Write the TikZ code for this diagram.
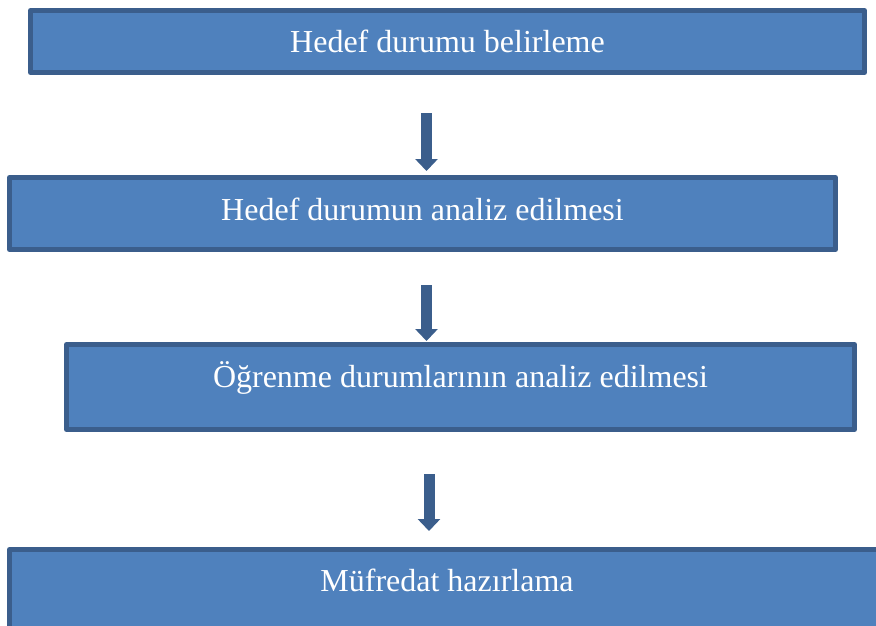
\documentclass[tikz,border=0pt]{standalone}
\usepackage{fontspec}
\setmainfont{Liberation Serif}
\usetikzlibrary{arrows.meta}
\definecolor{boxfill}{HTML}{4F81BD}
\definecolor{boxline}{HTML}{3B5E8C}
\tikzset{
  stagebox/.style={draw=boxline, fill=boxfill, line width=5pt, rectangle,
    inner sep=0pt, outer sep=0pt, line join=round},
  stagetext/.style={text=white, font=\fontsize{32}{38}\selectfont,
    inner sep=0pt, anchor=base},
  flowarrow/.style={draw=boxline, line width=11pt, line cap=butt,
    -{Triangle[width=22pt,length=12pt]}}
}
\begin{document}
\begin{tikzpicture}[x=1pt,y=-1pt]
\useasboundingbox (0,0) rectangle (876,625);
\clip (0,0) rectangle (876,625);

% stage boxes
\node[stagebox, minimum width=834pt, minimum height=62pt] (b1) at (447.5,41.5) {};
\node[stagebox, minimum width=826pt, minimum height=72pt] (b2) at (422.5,213.5) {};
\node[stagebox, minimum width=788pt, minimum height=85pt] (b3) at (460.5,387) {};
\node[stagebox, minimum width=875pt, minimum height=100pt] (b4) at (447,599.5) {};

% labels
\node[stagetext] (t1) at (447.5,52) {Hedef durumu belirleme};
\node[stagetext] (t2) at (422.5,220) {Hedef durumun analiz edilmesi};
\node[stagetext] (t3) at (460.5,387) {Öğrenme durumlarının analiz edilmesi};
\node[stagetext] (t4) at (447,591) {Müfredat hazırlama};

% block arrows between stages
\coordinate (a1s) at (426.5,113);
\coordinate (a1e) at (426.5,171);
\coordinate (a2s) at (426.5,285);
\coordinate (a2e) at (426.5,341);
\coordinate (a3s) at (429,474);
\coordinate (a3e) at (429,531);
\draw[flowarrow] (a1s) -- (a1e);
\draw[flowarrow] (a2s) -- (a2e);
\draw[flowarrow] (a3s) -- (a3e);
\end{tikzpicture}
\end{document}
